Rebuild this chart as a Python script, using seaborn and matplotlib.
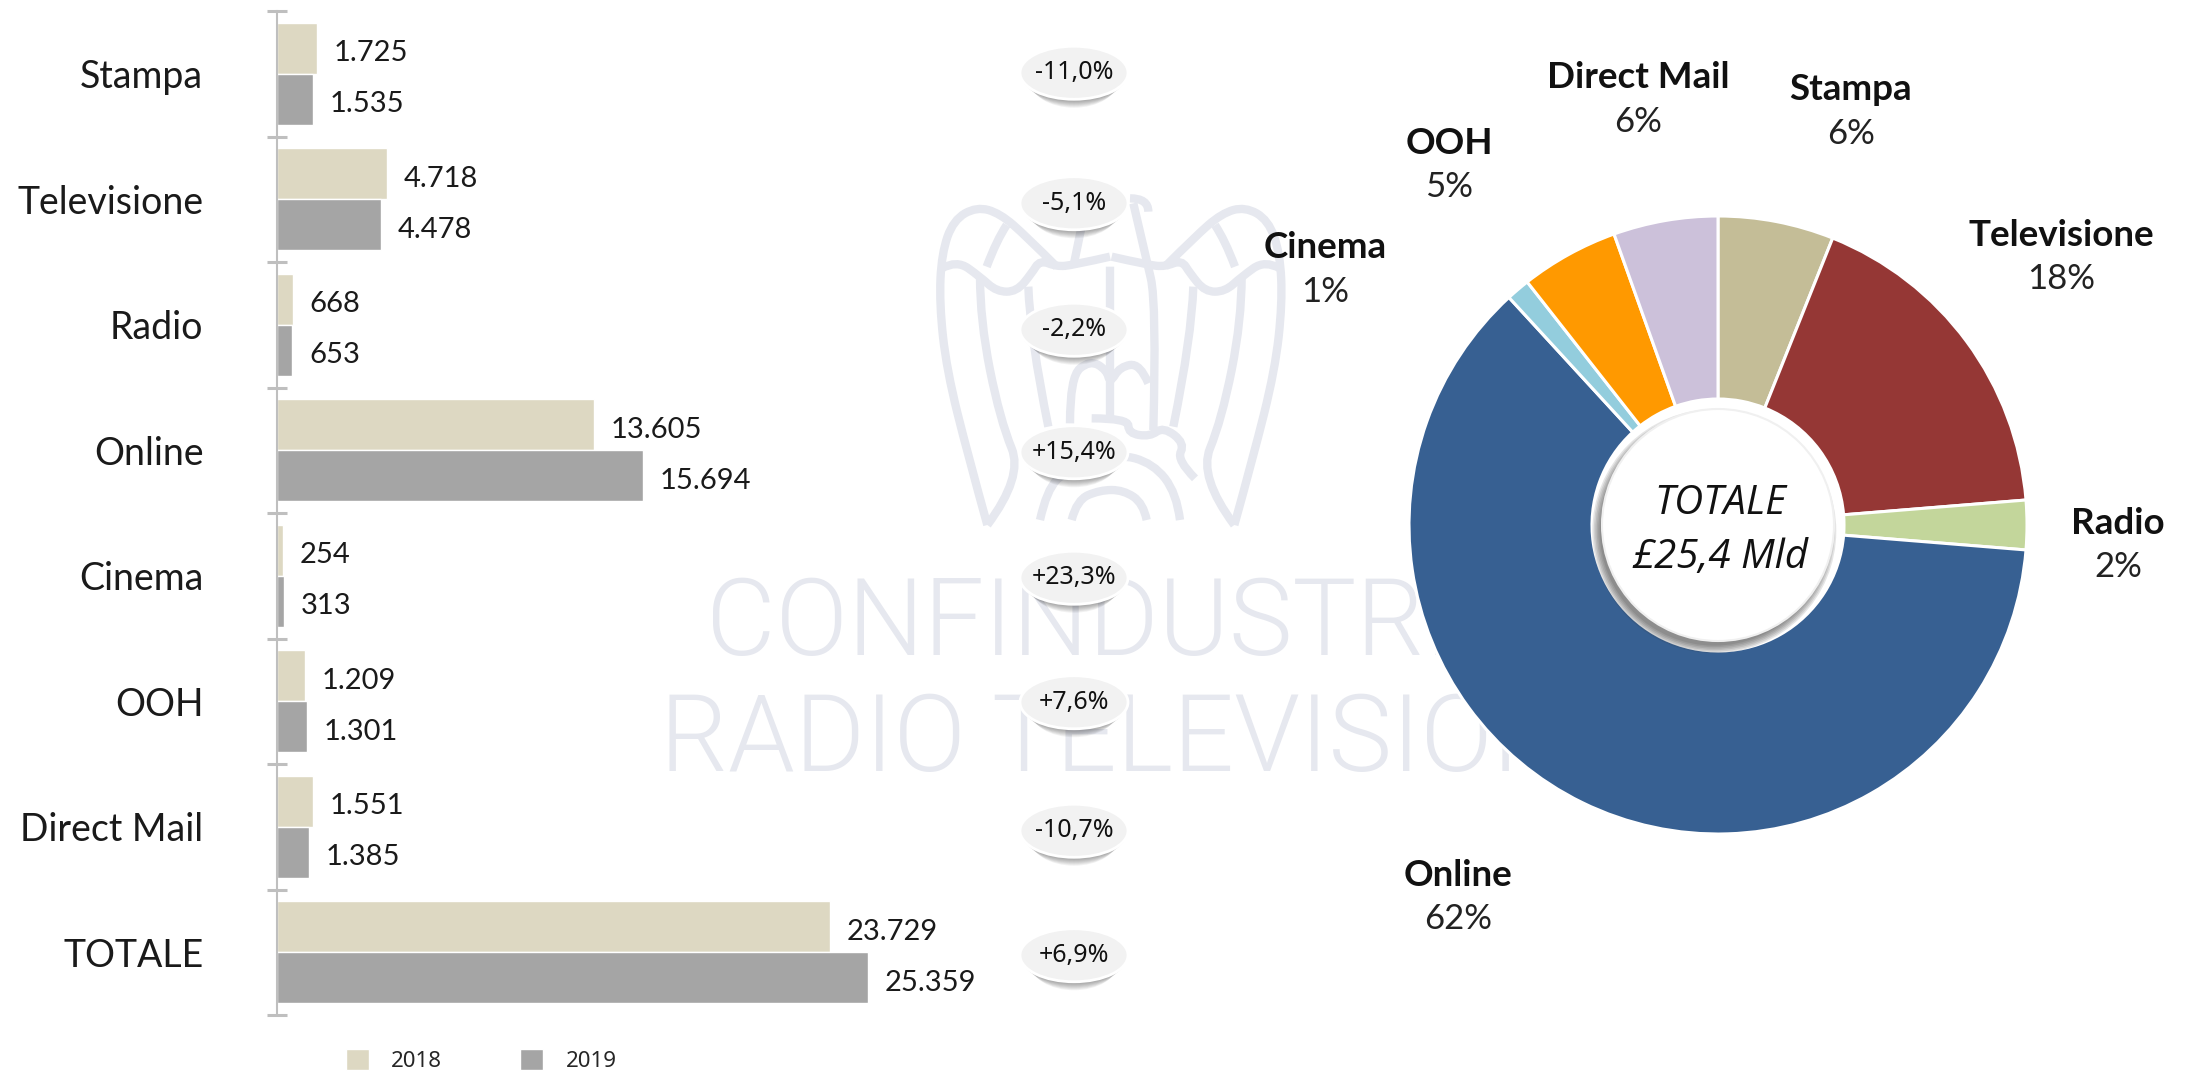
import numpy as np
import pandas as pd
import seaborn as sns
import matplotlib
matplotlib.use('Agg')
import matplotlib.pyplot as plt
from matplotlib.patches import Ellipse, Circle, PathPatch
from matplotlib.path import Path

# data
categories = ['Stampa', 'Televisione', 'Radio', 'Online', 'Cinema', 'OOH', 'Direct Mail', 'TOTALE']
values_2018 = [1725, 4718, 668, 13605, 254, 1209, 1551, 23729]
values_2019 = [1535, 4478, 653, 15694, 313, 1301, 1385, 25359]
labels_2018 = ['1.725', '4.718', '668', '13.605', '254', '1.209', '1.551', '23.729']
labels_2019 = ['1.535', '4.478', '653', '15.694', '313', '1.301', '1.385', '25.359']
changes = ['-11,0%', '-5,1%', '-2,2%', '+15,4%', '+23,3%', '+7,6%', '-10,7%', '+6,9%']
pie_labels = ['Stampa', 'Televisione', 'Radio', 'Online', 'Cinema', 'OOH', 'Direct Mail']
pie_values = [1535, 4478, 653, 15694, 313, 1301, 1385]
pie_shares = ['6%', '18%', '2%', '62%', '1%', '5%', '6%']

bar_colors = {'2018': '#DDD8C2', '2019': '#A5A5A5'}
pie_colors = ['#C4BD97', '#953735', '#C3D69B', '#376092', '#93CDDD', '#FF9900', '#CCC1DA']
pale = '#E6E8EF'

W, H = 2190, 1072

sns.set_theme(style='white')
plt.rcParams['font.family'] = ['Lato', 'DejaVu Sans']

df = pd.DataFrame({
    'category': categories * 2,
    'year': ['2018'] * len(categories) + ['2019'] * len(categories),
    'value': values_2018 + values_2019,
})

fig = plt.figure(figsize=(W / 100, H / 100), dpi=100, facecolor='white')


def px_axes(left, top, right, bottom, zorder):
    ax = fig.add_axes([left / W, 1 - bottom / H, (right - left) / W, (bottom - top) / H], zorder=zorder)
    ax.patch.set_alpha(0)
    return ax


# watermark behind everything
back = px_axes(0, 0, W, H, 0)
back.set_xlim(0, W)
back.set_ylim(H, 0)
back.axis('off')
back.text(706, 625, 'CONFINDUSTRIA', fontsize=77, color=pale, family='Roboto', fontweight=300, ha='left', va='center')
back.text(660, 742, 'RADIO TELEVISIONI', fontsize=77, color=pale, family='Roboto', fontweight=300, ha='left', va='center')


def smooth(pts):
    # rounded line through a few points, in the coordinates of the emblem crop
    pts = [(900 + x / 3, 170 + y / 3) for x, y in pts]
    verts, codes = [pts[0]], [Path.MOVETO]
    for a, b in zip(pts[1:-1], pts[2:]):
        verts += [a, ((a[0] + b[0]) / 2, (a[1] + b[1]) / 2)]
        codes += [Path.CURVE3, Path.CURVE3]
    verts[-1] = pts[-1]
    return Path(verts, codes)


half = [
    [(262, 1065), (205, 860), (140, 600), (118, 400), (125, 250), (160, 150), (230, 110), (300, 130), (380, 200), (470, 290)],
    [(125, 295), (170, 270), (240, 320), (290, 365), (350, 365), (395, 310), (420, 270), (470, 290), (520, 285), (630, 260)],
    [(240, 320), (240, 450), (300, 750), (370, 920), (262, 1065)],
    [(385, 350), (390, 500), (445, 770)],
    [(260, 290), (290, 210), (320, 165)],
]
for line in half:
    for pts in (line, [(1265 - x, y) for x, y in line]):
        back.add_patch(PathPatch(smooth(pts), fc='none', ec=pale, lw=6))
body = [
    [(520, 290), (540, 190), (560, 100)],
    [(690, 85), (745, 85), (745, 125)],
    [(700, 100), (735, 250), (770, 400), (760, 780)],
    [(630, 290), (630, 500), (630, 740)],
    [(510, 760), (510, 620), (570, 570), (620, 600), (630, 640), (660, 590), (720, 580), (745, 640)],
    [(575, 745), (685, 745), (685, 790), (750, 800), (790, 770), (855, 820), (830, 870), (885, 925)],
    [(420, 1050), (440, 960), (500, 900), (650, 850), (760, 880), (830, 970), (840, 1050)],
    [(515, 1050), (530, 990), (600, 960), (670, 960), (730, 1000), (740, 1050)],
]
for pts in body:
    back.add_patch(PathPatch(smooth(pts), fc='none', ec=pale, lw=6))

# bars
ax = px_axes(277, 11, 1200, 1015, 1)
sns.barplot(data=df, y='category', x='value', hue='year', order=categories, orient='h',
            palette=bar_colors, width=0.81, gap=0, dodge=True, saturation=1, legend=False, ax=ax)
ax.set_xlim(0, 39600)
ax.set_ylim(7.5, -0.5)
ax.set_xlabel('')
ax.set_ylabel('')
ax.set_xticks([])
for s in ['top', 'right', 'bottom']:
    ax.spines[s].set_visible(False)
ax.spines['left'].set_color('#BFBFBF')
ax.spines['left'].set_linewidth(1.5)
ax.set_yticks(np.arange(-0.5, 8), minor=True)
ax.tick_params(axis='y', which='minor', left=True, direction='inout', length=14, width=2.2, color='#BFBFBF')
ax.tick_params(axis='y', which='major', left=False, pad=47, labelsize=27, labelcolor='#1a1a1a')
for cont, labs in zip(ax.containers, [labels_2018, labels_2019]):
    for t in ax.bar_label(cont, labels=labs, padding=12, fontsize=21, color='#1a1a1a'):
        t.xyann = (t.xyann[0], -3.5)

handles = [plt.Rectangle((0, 0), 1, 1, fc=bar_colors[y]) for y in bar_colors]
fig.legend(handles, list(bar_colors), loc='lower left', bbox_to_anchor=(346 / W, 0), ncol=2, frameon=False,
           prop={'family': 'Noto Sans', 'size': 16}, handlelength=1.04, handleheight=1.04, handletextpad=1,
           columnspacing=3.5, borderpad=0, borderaxespad=0)

# donut
cx, cy, r = 1718, 525, 309
m = 1.03
pie = px_axes(cx - r * m, cy - r * m, cx + r * m, cy + r * m, 2)
pie.pie(pie_values, colors=pie_colors, startangle=90, counterclock=False, radius=1,
        wedgeprops={'width': 1 - 126 / 309, 'edgecolor': 'white', 'linewidth': 2.2})
pie.set_xlim(-m, m)
pie.set_ylim(-m, m)
for k in range(6):
    pie.add_patch(Circle((-0.012, -0.02), (122 - k * 1.5) / 309, fc='#303030', ec='none', alpha=0.12, zorder=5))
pie.add_patch(Circle((0, 0), 116 / 309, fc='white', ec='#F0F0F0', lw=1.5, zorder=6))

# pills and donut texts on top
front = px_axes(0, 0, W, H, 3)
front.set_xlim(0, W)
front.set_ylim(H, 0)
front.axis('off')

pill_dy = [-1, 4, 5, 2, 2, 1, 4, 3]
for i, txt in enumerate(changes):
    y = 11 + (i + 0.5) * 125.5 + pill_dy[i]
    for k in range(7):
        front.add_patch(Ellipse((1074, y + 3 + k), 104 - 3 * k, 52, fc='black', ec='none', alpha=0.05))
    front.add_patch(Ellipse((1074, y), 108, 53, fc='#F2F2F2', ec='white', lw=2))
    front.text(1074, y, txt, ha='center', va='center', fontsize=18, family='Noto Sans', color='#111111')

pie_pos = [(1851, 90), (2061, 235), (2118, 523), (1458, 875), (1325, 248), (1449, 143), (1638, 78)]
for name, share, (x, y) in zip(pie_labels, pie_shares, pie_pos):
    front.text(x, y, name, ha='center', va='center', fontsize=26.5, fontweight='bold', color='#111111')
    front.text(x, y + 44, share, ha='center', va='center', fontsize=25, color='#222222')

front.text(1720, 504, 'TOTALE', ha='center', va='center', fontsize=29, style='italic', family='Open Sans', color='#111111')
front.text(1720, 558, '£25,4 Mld', ha='center', va='center', fontsize=29, style='italic', family='Open Sans', color='#111111')

fig.savefig('out.png', dpi=100, facecolor='white')
